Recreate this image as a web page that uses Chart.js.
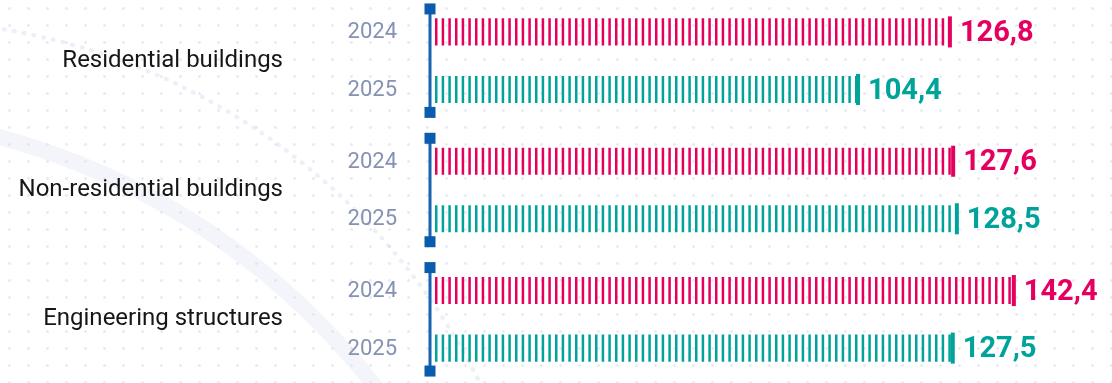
<!DOCTYPE html>
<html>
<head>
<meta charset="utf-8">
<script src="https://cdn.jsdelivr.net/npm/chart.js@4.4.1/dist/chart.umd.min.js"></script>
<style>
  html, body { margin: 0; padding: 0; width: 1112px; height: 383px; overflow: hidden; background: #fff; }
  body {
    position: relative;
    background-image: radial-gradient(circle, rgba(140,155,195,0.2) 1.1px, transparent 1.7px);
    background-size: 19px 17px;
  }
  .arc { position: absolute; border-radius: 50%; pointer-events: none; }
  #chart { position: absolute; left: 0; top: -4px; }
</style>
</head>
<body>
<div class="arc" style="left:-900px; top:105px; width:1400px; height:1400px; border:16px solid rgba(215,222,240,0.3);"></div>
<div class="arc" style="left:-760px; top:18px; width:1300px; height:1300px; border:5px dotted rgba(185,196,226,0.25);"></div>
<canvas id="chart" width="1112" height="388"></canvas>
<script>
// data
const categories = ['Residential buildings', 'Non-residential buildings', 'Engineering structures'];
const years = ['2024', '2025'];
const values2024 = [126.8, 127.6, 142.4];
const values2025 = [104.4, 128.5, 127.5];
const colors = ['#e5005f', '#00a39a'];

// striped fill for the bars
function stripes(color) {
  const p = document.createElement('canvas');
  p.width = 20; p.height = 10;
  const g = p.getContext('2d');
  g.fillStyle = color;
  for (let i = 0; i < 3; i++) g.fillRect(i * 20 / 3, 0, 2.5, 10);
  return g.createPattern(p, 'repeat');
}

const decor = {
  id: 'decor',
  beforeDatasetsDraw(chart) {
    const x0 = chart.scales.x.getPixelForValue(0);
    chart.data.datasets.forEach(ds => ds.backgroundColor.setTransform(new DOMMatrix().translate(x0 + 5, 0)));
  },
  afterDatasetsDraw(chart) {
    const ctx = chart.ctx, xs = chart.scales.x, ys = chart.scales.y;
    const x0 = xs.getPixelForValue(0);
    const step = ys.getPixelForValue(1) - ys.getPixelForValue(0);
    ctx.save();
    // axis pieces with square ends
    categories.forEach((c, i) => {
      const cy = ys.getPixelForValue(i);
      const t = cy - step * 0.4, b = cy + step * 0.4;
      ctx.fillStyle = '#1763b4';
      ctx.fillRect(x0 - 1.5, t, 3, b - t);
      ctx.fillStyle = '#0a5cae';
      ctx.fillRect(x0 - 5.5, t - 5.5, 11, 11);
      ctx.fillRect(x0 - 5.5, b - 5.5, 11, 11);
    });
    chart.data.datasets.forEach((ds, di) => {
      chart.getDatasetMeta(di).data.forEach((bar, i) => {
        ctx.fillStyle = colors[di];
        ctx.fillRect(bar.x - 2, bar.y - bar.height / 2 - 2, 4, bar.height + 4);
        ctx.font = 'bold 29px Roboto';
        ctx.textAlign = 'left';
        ctx.textBaseline = 'middle';
        ctx.fillText(ds.data[i].toFixed(1).replace('.', ','), bar.x + 10, bar.y + 2);
        ctx.font = '22px Roboto';
        ctx.fillStyle = '#8592b3';
        ctx.textAlign = 'right';
        ctx.fillText(ds.label, x0 - 33, bar.y + 1);
      });
    });
    ctx.restore();
  }
};

new Chart(document.getElementById('chart'), {
  type: 'bar',
  data: {
    labels: categories,
    datasets: [
      { label: years[0], data: values2024, backgroundColor: stripes(colors[0]) },
      { label: years[1], data: values2025, backgroundColor: stripes(colors[1]) }
    ]
  },
  options: {
    indexAxis: 'y',
    responsive: false,
    animation: false,
    layout: { padding: { left: 0, right: 26, top: 0, bottom: 0 } },
    datasets: { bar: { categoryPercentage: 0.89, barPercentage: 0.47, borderWidth: 0 } },
    plugins: { legend: { display: false }, tooltip: { enabled: false } },
    scales: {
      x: { display: false, min: 0, max: 160 },
      y: {
        grid: { display: false, drawTicks: false },
        border: { display: false },
        ticks: { padding: 147, color: '#161616', font: { family: 'Roboto', size: 24 } },
        afterFit(s) { s.width = 430; s.paddingTop = 0; s.paddingBottom = 0; }
      }
    }
  },
  plugins: [decor]
});
</script>
</body>
</html>
